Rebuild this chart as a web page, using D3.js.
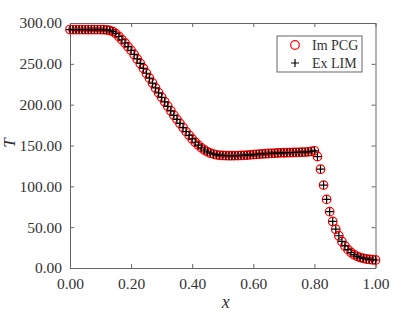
<!DOCTYPE html>
<html>
<head>
<meta charset="utf-8">
<script src="https://cdn.jsdelivr.net/npm/d3@7"></script>
<style>
  body { margin: 0; background: #fff; }
  svg text { font-family: "Liberation Serif", "Times New Roman", serif; fill: #333; }
</style>
</head>
<body>
<div id="chart"></div>
<script>
// x positions (step 0.01)
var xs = d3.range(0, 101).map(function(i) { return i / 100; });

// temperature readings, implicit PCG solver
var imPcg = [
    292, 292, 292, 292, 292, 292, 292, 292, 292, 292,
    292, 291.8, 291.5, 291, 289.5, 287, 283.5, 279.5, 275.5, 271,
    266.5, 261.5, 256, 250.5, 244.5, 238.5, 232.5, 226.5, 220.5, 214.5,
    209, 203.5, 198, 192.5, 187, 182, 177, 172, 167, 162.5,
    158, 154, 150.5, 147.2, 144.5, 142.3, 140.6, 139.4, 138.6, 138,
    137.8, 137.6, 137.5, 137.5, 137.6, 137.7, 137.8, 138, 138.2, 138.5,
    138.8, 139.1, 139.4, 139.7, 140, 140.2, 140.4, 140.6, 140.8, 141,
    141.1, 141.2, 141.3, 141.4, 141.5, 141.6, 141.8, 142, 142.3, 142.7,
    143.5, 136.5, 121, 101.5, 84, 69, 57, 47.5, 39.5, 32.5,
    27, 22.5, 19, 16.3, 14.3, 12.8, 11.8, 11, 10.5, 10.1,
    9.8
];

// explicit LIM readings (overlap the PCG ones in the picture)
var exLim = [
    292, 292, 292, 292, 292, 292, 292, 292, 292, 292,
    292, 291.8, 291.5, 291, 289.5, 287, 283.5, 279.5, 275.5, 271,
    266.5, 261.5, 256, 250.5, 244.5, 238.5, 232.5, 226.5, 220.5, 214.5,
    209, 203.5, 198, 192.5, 187, 182, 177, 172, 167, 162.5,
    158, 154, 150.5, 147.2, 144.5, 142.3, 140.6, 139.4, 138.6, 138,
    137.8, 137.6, 137.5, 137.5, 137.6, 137.7, 137.8, 138, 138.2, 138.5,
    138.8, 139.1, 139.4, 139.7, 140, 140.2, 140.4, 140.6, 140.8, 141,
    141.1, 141.2, 141.3, 141.4, 141.5, 141.6, 141.8, 142, 142.3, 142.7,
    143.5, 136.5, 121, 101.5, 84, 69, 57, 47.5, 39.5, 32.5,
    27, 22.5, 19, 16.3, 14.3, 12.8, 11.8, 11, 10.5, 10.1,
    9.8
];

var xTicks = [0, 0.2, 0.4, 0.6, 0.8, 1.0];
var yTicks = [0, 50, 100, 150, 200, 250, 300];
var seriesNames = ["Im PCG", "Ex LIM"];

var width = 415, height = 312;
var margin = {top: 23, right: 39.5, bottom: 44, left: 70};
var w = width - margin.left - margin.right,
    h = height - margin.top - margin.bottom;

var svg = d3.select("#chart").append("svg")
    .attr("width", width)
    .attr("height", height);

var g = svg.append("g")
    .attr("transform", "translate(" + margin.left + "," + margin.top + ")");

var x = d3.scaleLinear().domain([0, 1]).range([0, w]);
var y = d3.scaleLinear().domain([0, 300]).range([h, 0]);

var axisColor = "#666";
var fmt = d3.format(".2f");

// axes, ticks inward, mirrored on top and right
var axBottom = g.append("g").attr("transform", "translate(0," + h + ")")
    .call(d3.axisBottom(x).tickValues(xTicks).tickSizeInner(-4).tickSizeOuter(0).tickPadding(10).tickFormat(fmt));
var axLeft = g.append("g")
    .call(d3.axisLeft(y).tickValues(yTicks).tickSizeInner(-4).tickSizeOuter(0).tickPadding(8).tickFormat(fmt));
var axTop = g.append("g")
    .call(d3.axisTop(x).tickValues(xTicks).tickSizeInner(-4).tickSizeOuter(0).tickFormat(""));
var axRight = g.append("g").attr("transform", "translate(" + w + ",0)")
    .call(d3.axisRight(y).tickValues(yTicks).tickSizeInner(-4).tickSizeOuter(0).tickFormat(""));

[axBottom, axLeft, axTop, axRight].forEach(function(a) {
    a.attr("font-family", null);
    a.select(".domain").attr("stroke", axisColor).attr("stroke-width", 1);
    a.selectAll(".tick line").attr("stroke", axisColor);
    a.selectAll("text")
        .style("font-size", "15.5px")
        .attr("fill", "#333");
});

// markers
var circles = g.append("g");
circles.selectAll("circle")
    .data(imPcg)
    .enter().append("circle")
    .attr("cx", function(d, i) { return x(xs[i]); })
    .attr("cy", function(d) { return y(d); })
    .attr("r", 4.3)
    .attr("fill", "none")
    .attr("stroke", "#ff0000")
    .attr("stroke-width", 1.2);

var plusSize = 4;
var plus = g.append("g");
plus.selectAll("path")
    .data(exLim)
    .enter().append("path")
    .attr("d", function(d, i) {
        var cx = x(xs[i]), cy = y(d);
        return "M" + (cx - plusSize) + "," + cy + "H" + (cx + plusSize) +
               "M" + cx + "," + (cy - plusSize) + "V" + (cy + plusSize);
    })
    .attr("stroke", "#000")
    .attr("stroke-width", 1.2);

// axis labels
svg.append("text")
    .attr("x", margin.left + w / 2 + 3)
    .attr("y", 308)
    .attr("text-anchor", "middle")
    .style("font-size", "18px")
    .style("font-style", "italic")
    .text("x");

svg.append("text")
    .attr("transform", "translate(15,143) rotate(-90)")
    .attr("text-anchor", "middle")
    .style("font-size", "17px")
    .style("font-style", "italic")
    .text("T");

// legend
var legend = svg.append("g").attr("transform", "translate(277,36)");
legend.append("rect")
    .attr("width", 85).attr("height", 36)
    .attr("fill", "#fff")
    .attr("stroke", axisColor);

seriesNames.forEach(function(name, i) {
    var ly = 9 + i * 18;
    if (i == 0) {
        legend.append("circle")
            .attr("cx", 18).attr("cy", ly).attr("r", 4.3)
            .attr("fill", "none").attr("stroke", "#ff0000").attr("stroke-width", 1.2);
    } else {
        legend.append("path")
            .attr("d", "M" + (18 - plusSize) + "," + ly + "H" + (18 + plusSize) + "M18," + (ly - plusSize) + "V" + (ly + plusSize))
            .attr("stroke", "#000").attr("stroke-width", 1.2);
    }
    legend.append("text")
        .attr("x", 35).attr("y", ly + 5)
        .style("font-size", "14px")
        .text(name);
});
</script>
</body>
</html>
